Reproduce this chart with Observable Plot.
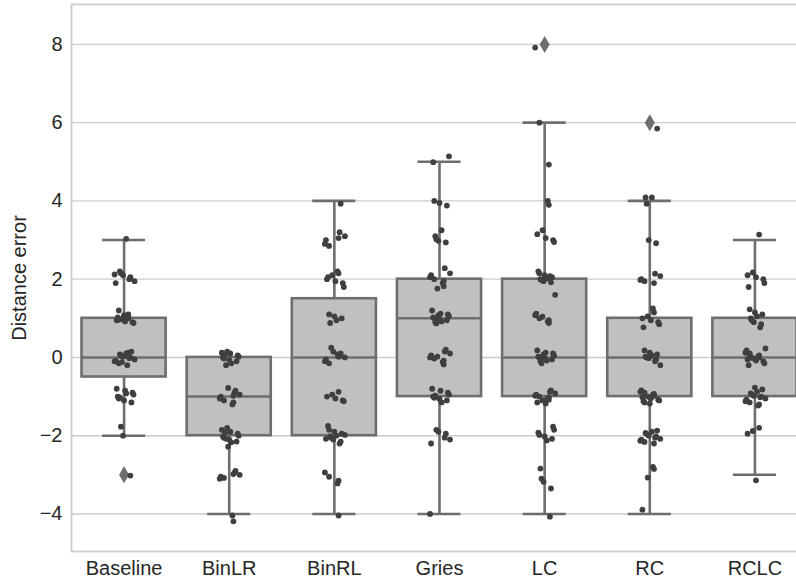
<!DOCTYPE html>
<html>
<head>
<meta charset="utf-8">
<script src="https://cdn.jsdelivr.net/npm/d3@7"></script>
<script src="https://cdn.jsdelivr.net/npm/@observablehq/plot@0.6"></script>
<style>
  html, body { margin: 0; padding: 0; background: #ffffff; overflow: hidden; }
  #chart svg { display: block; }
</style>
</head>
<body>
<div id="chart"></div>
<script>
// ---- Data ----
const categories = ["Baseline", "BinLR", "BinRL", "Gries", "LC", "RC", "RCLC"];
const yTicks = [-4, -2, 0, 2, 4, 6, 8];

const q1          = [-0.5, -2, -2, -1, -1, -1, -1];
const median      = [0, -1, 0, 1, 0, 0, 0];
const q3          = [1, 0, 1.5, 2, 2, 1, 1];
const whiskerLow  = [-2, -4, -4, -4, -4, -4, -3];
const whiskerHigh = [3, 0, 4, 5, 6, 4, 3];
const outliers    = [[-3], [], [], [], [8], [6], []];

const baselinePts = [3.03,
  2.2, 2.15, 2.1, 2.05, 2.0, 1.95, 1.9, 2.12,
  1.2, 1.1, 1.05, 1.0, 0.98, 0.95, 0.92, 0.9, 0.88, 1.02, 0.96, 1.08,
  0.15, 0.1, 0.08, 0.05, 0.02, 0, -0.02, -0.05, -0.08, -0.1, -0.15, 0.12, -0.2, 0.03, -0.12,
  -0.8, -0.85, -0.9, -0.95, -1.0, -1.05, -1.1, -1.15, -0.92, -1.02,
  -1.77, -2.0, -3.02];
const binLRPts = [0.15, 0.12, 0.1, 0.05, 0.02, 0, -0.03, -0.06, -0.1, -0.15, 0.08, -0.2,
  -0.78, -0.85, -0.9, -0.95, -1.0, -1.05, -1.1, -1.15, -1.2, -0.98,
  -1.8, -1.85, -1.9, -1.95, -2.0, -2.02, -2.05, -2.1, -2.15, -2.17, -1.92, -2.08,
  -2.28,
  -2.9, -2.95, -3.0, -3.05, -3.1, -3.08, -2.98,
  -4.04, -4.19];
const binRLPts = [3.93,
  3.2, 3.1, 3.0, 2.9, 2.85, 3.05,
  2.2, 2.15, 2.1, 2.0, 1.95, 1.9, 1.8, 2.05,
  1.1, 1.05, 1.0, 0.95, 0.88,
  0.25, 0.15, 0.1, 0.05, 0, -0.05, -0.1, -0.15, 0.02, 0.08,
  -0.88, -0.95, -1.0, -1.05, -1.1, -1.12,
  -1.75, -1.85, -1.9, -1.95, -2.0, -2.02, -2.05, -2.1, -2.15, -2.2, -1.98, -2.08,
  -2.94, -3.05, -3.15, -3.22,
  -4.04];
const griesPts = [5.14, 4.99,
  4.0, 3.95, 3.88,
  3.25, 3.1, 3.02, 2.98, 2.94,
  2.28, 2.15, 2.1, 2.05, 2.0, 1.95, 1.9, 1.82, 1.76,
  1.2, 1.12, 1.1, 1.05, 1.02, 1.0, 0.98, 0.95, 0.92, 0.9, 0.87, 1.08,
  0.2, 0.15, 0.1, 0.05, 0, -0.03, -0.08, -0.12, -0.18, 0.02,
  -0.8, -0.85, -0.9, -0.95, -1.0, -1.03, -1.06, -1.1, -1.15, -0.98,
  -1.85, -1.9, -1.95, -2.05, -2.1, -2.2,
  -4.0];
const lcPts = [7.92, 6.0, 4.93, 4.0, 3.9,
  3.25, 3.15, 3.05, 3.0, 2.95,
  2.2, 2.15, 2.1, 2.05, 2.02, 2.0, 1.98, 1.95, 1.92, 2.08,
  1.6,
  1.12, 1.08, 1.0, 0.95, 0.92, 0.88, 1.04,
  0.18, 0.12, 0.1, 0.05, 0.02, 0, -0.02, -0.05, -0.08, -0.1, -0.15, 0.08,
  -0.84, -0.88, -0.92, -0.95, -0.98, -1.0, -1.02, -1.05, -1.08, -1.1, -1.15, -1.18,
  -1.77, -1.85, -1.92, -1.98, -2.02, -2.08, -2.12,
  -2.84, -3.1, -3.18, -3.35,
  -4.07];
const rcPts = [5.85, 4.09, 4.09, 3.93, 3.0, 2.92,
  2.14, 2.08, 2.0, 1.98, 1.95, 1.9,
  1.25, 1.15, 1.05, 1.0, 0.95, 0.9, 0.85, 0.77,
  0.18, 0.12, 0.08, 0.05, 0.02, 0, -0.02, -0.05, -0.1, -0.2,
  -0.84, -0.88, -0.9, -0.93, -0.95, -0.98, -1.0, -1.02, -1.05, -1.08, -1.1, -1.12, -1.15, -1.18,
  -1.87, -1.9, -1.93, -1.96, -2.0, -2.02, -2.05, -2.08, -2.1, -2.13, -2.16, -2.2,
  -2.8, -2.85, -3.07,
  -3.89];
const rclcPts = [3.14,
  2.17, 2.1, 2.05, 2.0, 1.9, 1.8,
  1.23, 1.15, 1.1, 1.05, 1.0, 0.95, 0.9, 0.85, 0.77,
  0.23, 0.18, 0.12, 0.08, 0.05, 0.02, 0, -0.02, -0.05, -0.08, -0.1, -0.15, -0.2, 0.1,
  -0.77, -0.82, -0.88, -0.92, -0.95, -0.98, -1.0, -1.02, -1.05, -1.08, -1.12, -1.15, -1.2, -1.23,
  -1.8, -1.88, -1.95,
  -3.14];
const stripValues = [baselinePts, binLRPts, binRLPts, griesPts, lcPts, rcPts, rclcPts];

// Fixed (non-random) horizontal spread pattern for the strip points, in category units
const spreadPattern = [0.02, -0.05, 0.08, -0.02, 0.04, -0.08, 0.06, -0.04, 0.0, 0.09,
  -0.07, 0.03, -0.09, 0.05, -0.03, 0.07, -0.06, 0.01, 0.04, -0.05, 0.1, -0.01];

// ---- Derived tables ----
const boxes = categories.map((c, i) => ({
  i, q1: q1[i], med: median[i], q3: q3[i], lo: whiskerLow[i], hi: whiskerHigh[i]
}));
const caps = boxes.flatMap(b => [{i: b.i, y: b.lo}, {i: b.i, y: b.hi}]);
const outlierRows = outliers.flatMap((arr, i) => arr.map(v => ({i, v})));
const strip = stripValues.flatMap((arr, i) =>
  arr.map((v, k) => ({i, v, off: spreadPattern[(k * 7 + i * 3) % spreadPattern.length]})));

const thinDiamond = {
  draw(context, size) {
    const r = Math.sqrt(size / Math.PI);
    context.moveTo(0, -1.7 * r);
    context.lineTo(r, 0);
    context.lineTo(0, 1.7 * r);
    context.lineTo(-r, 0);
    context.closePath();
  }
};

const boxStroke = "#6e6e6e";
const boxFill = "#c0c0c0";
const lw = 2.6;

const chart = Plot.plot({
  width: 796,
  height: 581,
  marginLeft: 71,
  marginRight: -11,
  marginTop: 4,
  marginBottom: 30,
  style: { fontFamily: "'Liberation Sans', Arial, sans-serif", fontSize: "20px", color: "#262626", background: "#ffffff" },
  x: { type: "linear", domain: [-0.5, categories.length - 0.5] },
  y: { domain: [-4.96, 9.02] },
  marks: [
    Plot.ruleY(yTicks, { stroke: "#cccccc", strokeWidth: 1.4 }),
    Plot.frame({ stroke: "#cccccc", strokeWidth: 1.8 }),
    // whiskers
    Plot.ruleX(boxes, { x: "i", y1: "lo", y2: "q1", stroke: boxStroke, strokeWidth: lw }),
    Plot.ruleX(boxes, { x: "i", y1: "q3", y2: "hi", stroke: boxStroke, strokeWidth: lw }),
    // caps
    Plot.ruleY(caps, { y: "y", x1: d => d.i - 0.205, x2: d => d.i + 0.205, stroke: boxStroke, strokeWidth: lw }),
    // boxes
    Plot.rect(boxes, { x1: d => d.i - 0.4, x2: d => d.i + 0.4, y1: "q1", y2: "q3", fill: boxFill, stroke: boxStroke, strokeWidth: lw }),
    // medians
    Plot.ruleY(boxes, { y: "med", x1: d => d.i - 0.4, x2: d => d.i + 0.4, stroke: boxStroke, strokeWidth: lw }),
    // outliers
    Plot.dot(outlierRows, { x: "i", y: "v", symbol: thinDiamond, r: 5, fill: boxStroke, stroke: "none" }),
    // strip points
    Plot.dot(strip, { x: d => d.i + d.off, y: "v", r: 2.9, fill: "#3f3f3f", stroke: "none" }),
    Plot.axisX({ ticks: d3.range(categories.length), tickFormat: i => categories[i], tickSize: 0, tickPadding: 9, label: null, fill: "#262626" }),
    Plot.axisY({ ticks: yTicks, tickSize: 0, tickPadding: 9, label: "Distance error", labelAnchor: "center", labelOffset: 60, labelArrow: "none", fill: "#262626" })
  ]
});
document.getElementById("chart").appendChild(chart);
</script>
</body>
</html>
